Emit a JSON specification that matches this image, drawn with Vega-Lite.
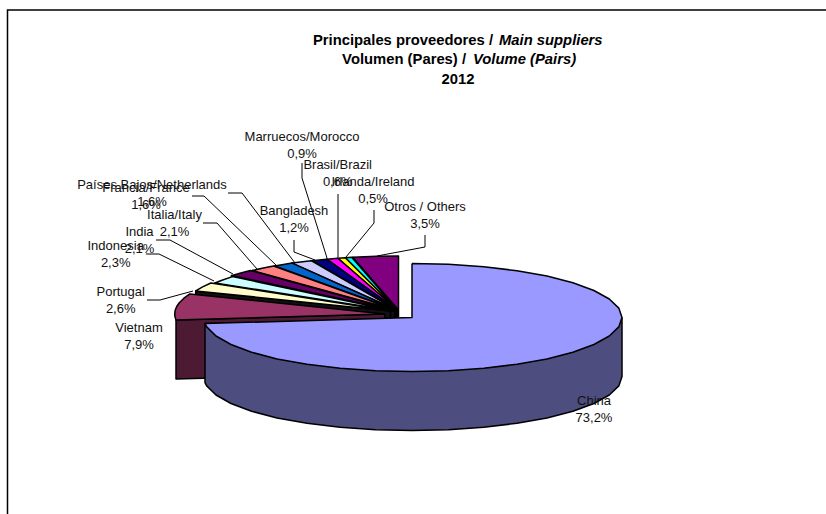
{"$schema":"https://vega.github.io/schema/vega-lite/v6.json","width":826,"height":514,"autosize":"none","padding":0,"background":"white","view":{"stroke":null},
"datasets":{
"slices":[
{"part":"Otros wall","i":1,"x":0,"y":0},{"part":"Otros wall","i":2,"x":-45.8,"y":52.7},{"part":"Otros wall","i":3,"x":-45.8,"y":-6.3},{"part":"Otros wall","i":4,"x":0,"y":-59},{"part":"Otros wall","i":5,"x":0,"y":0},
{"part":"Otros","i":1,"x":0,"y":0},{"part":"Otros","i":2,"x":-45.8,"y":52.7},{"part":"Otros","i":3,"x":-21.9,"y":53.7},{"part":"Otros","i":4,"x":0,"y":54},{"part":"Otros","i":5,"x":0,"y":0},
{"part":"Irlanda wall","i":1,"x":-1,"y":0},{"part":"Irlanda wall","i":2,"x":-53.2,"y":52.3},{"part":"Irlanda wall","i":3,"x":-53.2,"y":-6.7},{"part":"Irlanda wall","i":4,"x":-1,"y":-59},{"part":"Irlanda wall","i":5,"x":-1,"y":0},
{"part":"Irlanda","i":1,"x":-1,"y":0},{"part":"Irlanda","i":2,"x":-53.2,"y":52.3},{"part":"Irlanda","i":3,"x":-46.8,"y":52.7},{"part":"Irlanda","i":4,"x":-1,"y":0},
{"part":"Brasil wall","i":1,"x":-1,"y":0},{"part":"Brasil wall","i":2,"x":-60.6,"y":51.8},{"part":"Brasil wall","i":3,"x":-60.6,"y":-7.2},{"part":"Brasil wall","i":4,"x":-1,"y":-59},{"part":"Brasil wall","i":5,"x":-1,"y":0},
{"part":"Brasil","i":1,"x":-1,"y":0},{"part":"Brasil","i":2,"x":-60.6,"y":51.8},{"part":"Brasil","i":3,"x":-53.2,"y":52.3},{"part":"Brasil","i":4,"x":-1,"y":0},
{"part":"Marruecos wall","i":1,"x":-1,"y":0},{"part":"Marruecos wall","i":2,"x":-71.8,"y":50.8},{"part":"Marruecos wall","i":3,"x":-71.8,"y":-8.2},{"part":"Marruecos wall","i":4,"x":-1,"y":-59},{"part":"Marruecos wall","i":5,"x":-1,"y":0},
{"part":"Marruecos","i":1,"x":-1,"y":0},{"part":"Marruecos","i":2,"x":-71.8,"y":50.8},{"part":"Marruecos","i":3,"x":-60.6,"y":51.8},{"part":"Marruecos","i":4,"x":-1,"y":0},
{"part":"Bangladesh wall","i":1,"x":-1,"y":0},{"part":"Bangladesh wall","i":2,"x":-86.4,"y":49.3},{"part":"Bangladesh wall","i":3,"x":-86.4,"y":-9.7},{"part":"Bangladesh wall","i":4,"x":-1,"y":-59},{"part":"Bangladesh wall","i":5,"x":-1,"y":0},
{"part":"Bangladesh","i":1,"x":-1,"y":0},{"part":"Bangladesh","i":2,"x":-86.4,"y":49.3},{"part":"Bangladesh","i":3,"x":-71.8,"y":50.8},{"part":"Bangladesh","i":4,"x":-1,"y":0},
{"part":"Paises Bajos wall","i":1,"x":-2,"y":0},{"part":"Paises Bajos wall","i":2,"x":-106.4,"y":46.9},{"part":"Paises Bajos wall","i":3,"x":-106.4,"y":-12.1},{"part":"Paises Bajos wall","i":4,"x":-2,"y":-59},{"part":"Paises Bajos wall","i":5,"x":-2,"y":0},
{"part":"Paises Bajos","i":1,"x":-2,"y":0},{"part":"Paises Bajos","i":2,"x":-106.4,"y":46.9},{"part":"Paises Bajos","i":3,"x":-87.4,"y":49.3},{"part":"Paises Bajos","i":4,"x":-2,"y":0},
{"part":"Francia wall","i":1,"x":-2,"y":0},{"part":"Francia wall","i":2,"x":-123.9,"y":44},{"part":"Francia wall","i":3,"x":-123.9,"y":-15},{"part":"Francia wall","i":4,"x":-2,"y":-59},{"part":"Francia wall","i":5,"x":-2,"y":0},
{"part":"Francia","i":1,"x":-2,"y":0},{"part":"Francia","i":2,"x":-123.9,"y":44},{"part":"Francia","i":3,"x":-106.4,"y":46.9},{"part":"Francia","i":4,"x":-2,"y":0},
{"part":"Italia wall","i":1,"x":-3,"y":0},{"part":"Italia wall","i":2,"x":-146.2,"y":39.5},{"part":"Italia wall","i":3,"x":-146.2,"y":-19.5},{"part":"Italia wall","i":4,"x":-3,"y":-59},{"part":"Italia wall","i":5,"x":-3,"y":0},
{"part":"Italia","i":1,"x":-3,"y":0},{"part":"Italia","i":2,"x":-146.2,"y":39.5},{"part":"Italia","i":3,"x":-135.2,"y":42},{"part":"Italia","i":4,"x":-124.9,"y":44},{"part":"Italia","i":5,"x":-3,"y":0},
{"part":"India wall","i":1,"x":-5,"y":0},{"part":"India wall","i":2,"x":-167,"y":34.4},{"part":"India wall","i":3,"x":-167,"y":-24.6},{"part":"India wall","i":4,"x":-5,"y":-59},{"part":"India wall","i":5,"x":-5,"y":0},
{"part":"India","i":1,"x":-5,"y":0},{"part":"India","i":2,"x":-167,"y":34.4},{"part":"India","i":3,"x":-158.6,"y":36.8},{"part":"India","i":4,"x":-148.2,"y":39.5},{"part":"India","i":5,"x":-5,"y":0},
{"part":"Indonesia wall","i":1,"x":-4,"y":-1},{"part":"Indonesia wall","i":2,"x":-183.6,"y":27},{"part":"Indonesia wall","i":3,"x":-183.6,"y":-32},{"part":"Indonesia wall","i":4,"x":-4,"y":-60},{"part":"Indonesia wall","i":5,"x":-4,"y":-1},
{"part":"Indonesia","i":1,"x":-4,"y":-1},{"part":"Indonesia","i":2,"x":-183.6,"y":27},{"part":"Indonesia","i":3,"x":-175.2,"y":30.3},{"part":"Indonesia","i":4,"x":-166,"y":33.4},{"part":"Indonesia","i":5,"x":-4,"y":-1},
{"part":"Portugal wall","i":1,"x":-8,"y":-1},{"part":"Portugal wall","i":2,"x":-202.8,"y":19.1},{"part":"Portugal wall","i":3,"x":-202.8,"y":-39.9},{"part":"Portugal wall","i":4,"x":-8,"y":-60},{"part":"Portugal wall","i":5,"x":-8,"y":-1},
{"part":"Portugal","i":1,"x":-8,"y":-1},{"part":"Portugal","i":2,"x":-202.8,"y":19.1},{"part":"Portugal","i":3,"x":-195.9,"y":23.1},{"part":"Portugal","i":4,"x":-187.6,"y":27},{"part":"Portugal","i":5,"x":-8,"y":-1},
{"part":"Vietnam wall","i":1,"x":-13.8,"y":-4},{"part":"Vietnam wall","i":2,"x":-222.5,"y":-10.1},{"part":"Vietnam wall","i":3,"x":-222.5,"y":-69.1},{"part":"Vietnam wall","i":4,"x":-13.8,"y":-63},{"part":"Vietnam wall","i":5,"x":-13.8,"y":-4},
{"part":"Vietnam","i":1,"x":-13.8,"y":-4},{"part":"Vietnam","i":2,"x":-222.5,"y":-10.1},{"part":"Vietnam","i":3,"x":-223.5,"y":-6.8},{"part":"Vietnam","i":4,"x":-223.8,"y":-4},{"part":"Vietnam","i":5,"x":-223.3,"y":-0.2},{"part":"Vietnam","i":6,"x":-221.8,"y":3.5},{"part":"Vietnam","i":7,"x":-219.2,"y":7.2},{"part":"Vietnam","i":8,"x":-214.6,"y":11.8},{"part":"Vietnam","i":9,"x":-208.6,"y":16.1},{"part":"Vietnam","i":10,"x":-13.8,"y":-4},
{"part":"China wall","i":1,"x":223.5,"y":-7.5},{"part":"China wall","i":2,"x":223.5,"y":-66.5},{"part":"China wall","i":3,"x":220.3,"y":-75.9},{"part":"China wall","i":4,"x":210.8,"y":-85},{"part":"China wall","i":5,"x":195.4,"y":-93.5},{"part":"China wall","i":6,"x":174.4,"y":-101.2},{"part":"China wall","i":7,"x":148.5,"y":-107.9},{"part":"China wall","i":8,"x":118.5,"y":-113.3},{"part":"China wall","i":9,"x":85.3,"y":-117.2},{"part":"China wall","i":10,"x":50,"y":-119.7},{"part":"China wall","i":11,"x":13.5,"y":-120.5},{"part":"China wall","i":12,"x":-23,"y":-119.7},{"part":"China wall","i":13,"x":-58.3,"y":-117.2},{"part":"China wall","i":14,"x":-91.5,"y":-113.3},{"part":"China wall","i":15,"x":-121.5,"y":-107.9},{"part":"China wall","i":16,"x":-147,"y":-101.2},{"part":"China wall","i":17,"x":-167.5,"y":-93.5},{"part":"China wall","i":18,"x":-182.5,"y":-85},{"part":"China wall","i":19,"x":-191.8,"y":-75.9},{"part":"China wall","i":20,"x":-193.5,"y":-72.6},{"part":"China wall","i":21,"x":-193.5,"y":-13.6},{"part":"China wall","i":22,"x":223.5,"y":-7.5},
{"part":"China","i":1,"x":13.5,"y":46.5},{"part":"China","i":2,"x":50,"y":45.7},{"part":"China","i":3,"x":85.3,"y":43.2},{"part":"China","i":4,"x":118.5,"y":39.3},{"part":"China","i":5,"x":148.5,"y":33.9},{"part":"China","i":6,"x":174.4,"y":27.2},{"part":"China","i":7,"x":195.4,"y":19.5},{"part":"China","i":8,"x":210.8,"y":11},{"part":"China","i":9,"x":220.3,"y":1.9},{"part":"China","i":10,"x":223.5,"y":-7.5},{"part":"China","i":11,"x":220.3,"y":-16.9},{"part":"China","i":12,"x":210.8,"y":-26},{"part":"China","i":13,"x":195.4,"y":-34.5},{"part":"China","i":14,"x":174.4,"y":-42.2},{"part":"China","i":15,"x":148.5,"y":-48.9},{"part":"China","i":16,"x":118.5,"y":-54.3},{"part":"China","i":17,"x":85.3,"y":-58.2},{"part":"China","i":18,"x":50,"y":-60.7},{"part":"China","i":19,"x":13.5,"y":-61.5},{"part":"China","i":20,"x":-23,"y":-60.7},{"part":"China","i":21,"x":-58.3,"y":-58.2},{"part":"China","i":22,"x":-91.5,"y":-54.3},{"part":"China","i":23,"x":-121.5,"y":-48.9},{"part":"China","i":24,"x":-147,"y":-42.2},{"part":"China","i":25,"x":-167.5,"y":-34.5},{"part":"China","i":26,"x":-182.5,"y":-26},{"part":"China","i":27,"x":-191.8,"y":-16.9},{"part":"China","i":28,"x":-193.5,"y":-13.6},{"part":"China","i":29,"x":13.5,"y":-7.5},{"part":"China","i":30,"x":13.5,"y":46.5}
],
"leaders":[
{"to":"Portugal","i":1,"x":-251.5,"y":10},{"to":"Portugal","i":2,"x":-238.5,"y":10},{"to":"Portugal","i":3,"x":-205.5,"y":19},
{"to":"Indonesia","i":1,"x":-252.5,"y":56},{"to":"Indonesia","i":2,"x":-239.5,"y":56},{"to":"Indonesia","i":3,"x":-184.5,"y":29},
{"to":"India","i":1,"x":-242.5,"y":70},{"to":"India","i":2,"x":-228.5,"y":70},{"to":"India","i":3,"x":-165.5,"y":36},
{"to":"Italia","i":1,"x":-195.5,"y":87},{"to":"Italia","i":2,"x":-181.5,"y":87},{"to":"Italia","i":3,"x":-141.5,"y":41},
{"to":"Francia","i":1,"x":-206.5,"y":114},{"to":"Francia","i":2,"x":-194.5,"y":114},{"to":"Francia","i":3,"x":-121.5,"y":44},
{"to":"Paises Bajos","i":1,"x":-170.5,"y":117},{"to":"Paises Bajos","i":2,"x":-156.5,"y":117},{"to":"Paises Bajos","i":3,"x":-103.5,"y":47},
{"to":"Bangladesh","i":1,"x":-104.5,"y":70},{"to":"Bangladesh","i":2,"x":-104.5,"y":58},{"to":"Bangladesh","i":3,"x":-83.5,"y":50},
{"to":"Marruecos","i":1,"x":-96.5,"y":147},{"to":"Marruecos","i":2,"x":-96.5,"y":132},{"to":"Marruecos","i":3,"x":-71.5,"y":52},
{"to":"Brasil","i":1,"x":-60.5,"y":116},{"to":"Brasil","i":2,"x":-60.5,"y":103},{"to":"Brasil","i":3,"x":-60.5,"y":53},
{"to":"Irlanda","i":1,"x":-24.5,"y":100},{"to":"Irlanda","i":2,"x":-24.5,"y":87},{"to":"Irlanda","i":3,"x":-52.5,"y":53},
{"to":"Otros","i":1,"x":26.5,"y":75},{"to":"Otros","i":2,"x":26.5,"y":63},{"to":"Otros","i":3,"x":-21.5,"y":54}
],
"labels":[
{"label":"China\n73,2%","x":195.5,"y":-91.3},
{"label":"Vietnam\n7,9%","x":-259.5,"y":-18},
{"label":"Portugal\n2,6%","x":-277.8,"y":18.1},
{"label":"Indonesia\n2,3%","x":-282.8,"y":64.3},
{"label":"India\n2,1%","x":-259,"y":78.5},
{"label":"Italia/Italy\n2,1%","x":-224,"y":95},
{"label":"Francia/France\n1,6%","x":-252.5,"y":122},
{"label":"Países Bajos/Netherlands\n1,6%","x":-246.5,"y":125.5},
{"label":"Bangladesh\n1,2%","x":-104.5,"y":99.3},
{"label":"Marruecos/Morocco\n0,9%","x":-96.5,"y":173.5},
{"label":"Brasil/Brazil\n0,6%","x":-60.8,"y":144.8},
{"label":"Irlanda/Ireland\n0,5%","x":-25.5,"y":128.1},
{"label":"Otros / Others\n3,5%","x":26.5,"y":103.1}
],
"frame":[{"i":1,"x":427.5,"y":300},{"i":2,"x":-391,"y":300},{"i":3,"x":-391,"y":-204}]
},
"layer":[
{"data":{"name":"frame"},"mark":{"type":"line","stroke":"black","strokeWidth":1.5},"encoding":{"x":{"field":"x","type":"quantitative","scale":{"domain":[-398.5,427.5],"nice":false,"zero":false},"axis":null},"y":{"field":"y","type":"quantitative","scale":{"domain":[-204,310],"nice":false,"zero":false},"axis":null},"order":{"field":"i"}}},
{"data":{"name":"slices"},"mark":{"type":"line","stroke":"black","strokeWidth":1.5,"strokeJoin":"round"},"encoding":{"x":{"field":"x","type":"quantitative"},"y":{"field":"y","type":"quantitative"},"order":{"field":"i"},"detail":{"field":"part"},"fill":{"field":"part","type":"nominal","legend":null,"scale":{
"domain":["China","China wall","Vietnam","Vietnam wall","Portugal","Portugal wall","Indonesia","Indonesia wall","India","India wall","Italia","Italia wall","Francia","Francia wall","Paises Bajos","Paises Bajos wall","Bangladesh","Bangladesh wall","Marruecos","Marruecos wall","Brasil","Brasil wall","Irlanda","Irlanda wall","Otros","Otros wall"],
"range":["#9999FF","#4D4D80","#993366","#4D1A33","#FFFFCC","#111111","#CCFFFF","#111111","#660066","#111111","#FF8080","#111111","#0066CC","#111111","#CCCCFF","#111111","#000080","#000000","#FF00FF","#111111","#FFFF00","#111111","#00FFFF","#111111","#800080","#200020"]}}}},
{"data":{"name":"leaders"},"mark":{"type":"line","stroke":"black","strokeWidth":1},"encoding":{"x":{"field":"x","type":"quantitative"},"y":{"field":"y","type":"quantitative"},"order":{"field":"i"},"detail":{"field":"to"}}},
{"data":{"name":"labels"},"mark":{"type":"text","font":"Liberation Sans","fontSize":13,"lineBreak":"\n","lineHeight":17,"align":"center","baseline":"middle","fill":"#111111"},"encoding":{"x":{"field":"x","type":"quantitative"},"y":{"field":"y","type":"quantitative"},"text":{"field":"label"}}},
{"data":{"values":[{"t":"Principales proveedores /","x":94.5,"y":265},{"t":"Volumen (Pares) /","x":67.5,"y":246}]},"mark":{"type":"text","font":"Liberation Sans","fontSize":14.8,"fontWeight":"bold","align":"right","baseline":"alphabetic","fill":"black"},"encoding":{"x":{"field":"x","type":"quantitative"},"y":{"field":"y","type":"quantitative"},"text":{"field":"t"}}},
{"data":{"values":[{"t":"Main suppliers","x":100.5,"y":265},{"t":"Volume (Pairs)","x":74.5,"y":246}]},"mark":{"type":"text","font":"Liberation Sans","fontSize":14.8,"fontWeight":"bold","fontStyle":"italic","align":"left","baseline":"alphabetic","fill":"black"},"encoding":{"x":{"field":"x","type":"quantitative"},"y":{"field":"y","type":"quantitative"},"text":{"field":"t"}}},
{"data":{"values":[{"t":"2012","x":59.5,"y":226}]},"mark":{"type":"text","font":"Liberation Sans","fontSize":14.8,"fontWeight":"bold","align":"center","baseline":"alphabetic","fill":"black"},"encoding":{"x":{"field":"x","type":"quantitative"},"y":{"field":"y","type":"quantitative"},"text":{"field":"t"}}}
]}
